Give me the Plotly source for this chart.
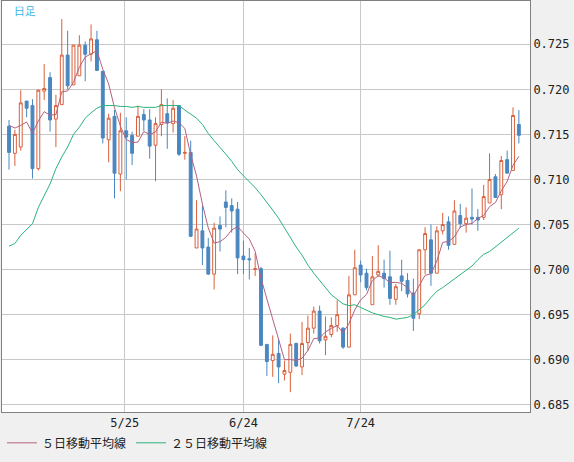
import plotly.graph_objects as go

# 日足データ (始値, 高値, 安値, 終値)
opens = [0.7159, 0.7129, 0.7136, 0.7187, 0.7182, 0.7112, 0.7198, 0.7213, 0.7167, 0.7183,
         0.7238, 0.7205, 0.7215, 0.7249, 0.7239, 0.7255, 0.7220, 0.7144, 0.7170, 0.7106,
         0.7154, 0.7149, 0.7148, 0.7172, 0.7166, 0.7138, 0.7161, 0.7173, 0.7162, 0.7182,
         0.7129, 0.7130, 0.7024, 0.7043, 0.7025, 0.6995, 0.7049, 0.7075, 0.7071, 0.7067,
         0.7015, 0.7012, 0.7000, 0.7001, 0.6917, 0.6899, 0.6907, 0.6884, 0.6886, 0.6918,
         0.6892, 0.6919, 0.6935, 0.6954, 0.6922, 0.6928, 0.6938, 0.6935, 0.6914, 0.6972,
         0.7005, 0.6996, 0.6961, 0.6994, 0.6996, 0.6992, 0.6967, 0.6993, 0.6988, 0.6974,
         0.6951, 0.7022, 0.7033, 0.6996, 0.7043, 0.7053, 0.7028, 0.7060, 0.7051, 0.7058,
         0.7058, 0.7058, 0.7074, 0.7103, 0.7083, 0.7122, 0.7110, 0.7161]
highs = [0.7166, 0.7155, 0.7199, 0.7187, 0.7189, 0.7200, 0.7228, 0.7219, 0.7194, 0.7278,
         0.7265, 0.7249, 0.7260, 0.7253, 0.7272, 0.7265, 0.7220, 0.7173, 0.7177, 0.7174,
         0.7169, 0.7153, 0.7182, 0.7178, 0.7178, 0.7169, 0.7200, 0.7190, 0.7188, 0.7182,
         0.7148, 0.7143, 0.7077, 0.7071, 0.7035, 0.7052, 0.7059, 0.7088, 0.7079, 0.7075,
         0.7032, 0.7024, 0.7018, 0.7003, 0.6917, 0.6927, 0.6923, 0.6899, 0.6929, 0.6919,
         0.6942, 0.6949, 0.6959, 0.6960, 0.6948, 0.6947, 0.6966, 0.6936, 0.6993, 0.7022,
         0.7010, 0.7001, 0.7015, 0.7027, 0.7011, 0.7021, 0.6984, 0.7011, 0.6996, 0.6990,
         0.7022, 0.7047, 0.7050, 0.7048, 0.7063, 0.7059, 0.7077, 0.7073, 0.7069, 0.7090,
         0.7067, 0.7094, 0.7129, 0.7106, 0.7126, 0.7132, 0.7180, 0.7177]
lows = [0.7111, 0.7115, 0.7132, 0.7169, 0.7101, 0.7110, 0.7188, 0.7153, 0.7136, 0.7183,
        0.7200, 0.7205, 0.7215, 0.7209, 0.7231, 0.7221, 0.7140, 0.7119, 0.7079, 0.7087,
        0.7100, 0.7116, 0.7148, 0.7154, 0.7123, 0.7098, 0.7148, 0.7134, 0.7152, 0.7126,
        0.7122, 0.7036, 0.7024, 0.7005, 0.6994, 0.6978, 0.7020, 0.7047, 0.7041, 0.6995,
        0.6995, 0.6989, 0.6993, 0.6915, 0.6882, 0.6881, 0.6874, 0.6877, 0.6864, 0.6892,
        0.6883, 0.6910, 0.6929, 0.6918, 0.6905, 0.6925, 0.6931, 0.6912, 0.6914, 0.6972,
        0.6986, 0.6977, 0.6961, 0.6992, 0.6980, 0.6961, 0.6961, 0.6976, 0.6969, 0.6932,
        0.6945, 0.6995, 0.6982, 0.6996, 0.7039, 0.7022, 0.7028, 0.7046, 0.7041, 0.7050,
        0.7043, 0.7055, 0.7074, 0.7080, 0.7067, 0.7107, 0.7110, 0.7140]
closes = [0.7130, 0.7150, 0.7185, 0.7179, 0.7112, 0.7199, 0.7201, 0.7166, 0.7182, 0.7238,
          0.7204, 0.7249, 0.7249, 0.7239, 0.7256, 0.7221, 0.7146, 0.7168, 0.7107, 0.7154,
          0.7147, 0.7129, 0.7170, 0.7166, 0.7137, 0.7162, 0.7183, 0.7163, 0.7179, 0.7128,
          0.7130, 0.7037, 0.7045, 0.7024, 0.6995, 0.7046, 0.7045, 0.7069, 0.7065, 0.7013,
          0.7011, 0.7011, 0.7001, 0.6916, 0.6898, 0.6906, 0.6892, 0.6888, 0.6917, 0.6893,
          0.6918, 0.6935, 0.6954, 0.6921, 0.6926, 0.6938, 0.6950, 0.6914, 0.6972, 0.7002,
          0.6994, 0.6980, 0.6992, 0.6998, 0.6990, 0.6968, 0.6981, 0.6987, 0.6973, 0.6946,
          0.7022, 0.7040, 0.6996, 0.7043, 0.7050, 0.7027, 0.7065, 0.7051, 0.7057, 0.7056,
          0.7055, 0.7081, 0.7100, 0.7080, 0.7121, 0.7107, 0.7171, 0.7149]
# 表示期間より前の終値 (5日移動平均の計算用)
prev_closes = [0.7165, 0.7170, 0.7160, 0.7175]
# 25日移動平均線 (チャートから読み取り)
ma25 = [0.7026, 0.7029, 0.7038, 0.7044, 0.7051, 0.7069, 0.7082, 0.7095, 0.7112, 0.7125,
        0.7136, 0.7150, 0.7158, 0.7168, 0.7174, 0.7179, 0.7182, 0.7182, 0.7182, 0.7181,
        0.7181, 0.7180, 0.7181, 0.7180, 0.7180, 0.7180, 0.7182, 0.7182, 0.7182, 0.7182,
        0.7177, 0.7172, 0.7168, 0.7161, 0.7151, 0.7143, 0.7136, 0.7128, 0.7120, 0.7111,
        0.7104, 0.7098, 0.7091, 0.7083, 0.7075, 0.7066, 0.7057, 0.7046, 0.7035, 0.7025,
        0.7016, 0.7005, 0.6996, 0.6988, 0.6981, 0.6972, 0.6967, 0.6962, 0.6960, 0.6961,
        0.6958, 0.6955, 0.6952, 0.6950, 0.6948, 0.6947, 0.6945, 0.6946, 0.6947, 0.6950,
        0.6956, 0.6961, 0.6969, 0.6976, 0.6980, 0.6985, 0.6990, 0.6995, 0.6999, 0.7004,
        0.7011, 0.7017, 0.7020, 0.7025, 0.7030, 0.7035, 0.7041, 0.7046]
tick_pos = [19.75, 40, 60]
tick_labels = ['5/25', '6/24', '7/24']
y_ticks = [0.685, 0.690, 0.695, 0.700, 0.705, 0.710, 0.715, 0.720, 0.725]

x = list(range(len(closes)))
all_closes = prev_closes + closes
ma5 = [sum(all_closes[i:i + 5]) / 5 for i in range(len(closes))]

rojo = '#d8603c'
azul = '#4a87c0'

fig = go.Figure()
fig.add_trace(go.Candlestick(x=x, open=opens, high=highs, low=lows, close=closes,
                             increasing=dict(line=dict(color=rojo, width=1), fillcolor='white'),
                             decreasing=dict(line=dict(color=azul, width=1), fillcolor=azul),
                             whiskerwidth=0, showlegend=False, hoverinfo='skip'))
fig.add_trace(go.Scatter(x=x, y=ma5, mode='lines', name='５日移動平均線',
                         line=dict(color='#b5607e', width=1)))
fig.add_trace(go.Scatter(x=x, y=ma25, mode='lines', name='２５日移動平均線',
                         line=dict(color='#2cb37a', width=1)))

fig.add_annotation(text='日足', xref='paper', yref='paper', x=0.018, y=0.995,
                   xanchor='left', yanchor='top', showarrow=False,
                   font=dict(color='#33b5e8', size=11))

fig.update_layout(width=574, height=462, margin=dict(l=2, r=44, t=1, b=50, autoexpand=False),
                  paper_bgcolor='#f0f0f0', plot_bgcolor='white',
                  font=dict(family='DejaVu Sans Mono', size=12, color='#222'),
                  legend=dict(orientation='h', x=0.0, y=-0.075, yanchor='middle',
                              font=dict(family='Noto Sans CJK JP', size=12),
                              bgcolor='rgba(0,0,0,0)'),
                  xaxis=dict(range=[-1.2, 88.9], tickvals=tick_pos, ticktext=tick_labels,
                             showgrid=True, gridcolor='#c8c8c8', zeroline=False,
                             rangeslider=dict(visible=False), showline=True,
                             linecolor='#808080', mirror=True, ticks=''),
                  yaxis=dict(range=[0.6842, 0.7298], side='right', tickvals=y_ticks,
                             tickformat='.3f', showgrid=True, gridcolor='#c8c8c8',
                             zeroline=False, showline=True, linecolor='#808080',
                             mirror=True, ticks='', automargin=False))

fig.write_html("out.html", config={'displayModeBar': False},
               post_script="document.body.style.margin='0';")
